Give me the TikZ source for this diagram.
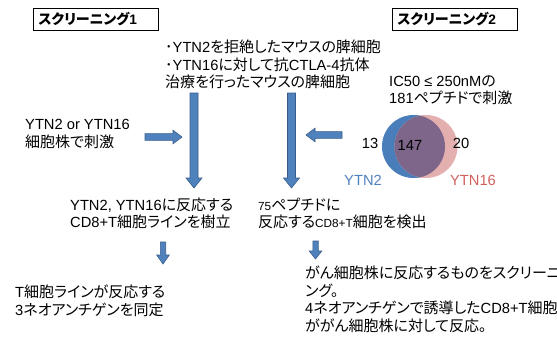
\documentclass[tikz,border=0pt]{standalone}
\usepackage{fontspec}
\setmainfont[RawFeature=+palt]{Noto Sans CJK JP}
\newfontfamily\lat[Scale=0.98]{Liberation Sans}
\newcommand\la[1]{{\lat #1}}
\newcommand\las[1]{{\lat\fontsize{12}{14}\selectfont #1}}
\usetikzlibrary{calc}
\definecolor{arrowfill}{HTML}{4F81BD}
\definecolor{arrowline}{HTML}{385D8A}
\definecolor{vennblue}{HTML}{4A7EBB}
\definecolor{vennpink}{HTML}{E4B0AF}
\definecolor{vennmix}{HTML}{7D6689}
\definecolor{ytntwo}{HTML}{4F81BD}
\definecolor{ytnsixteen}{HTML}{D0605E}
\tikzset{
  txt/.style={anchor=west, align=left, inner sep=0pt, font=\fontsize{15}{17.5}\selectfont},
  numtxt/.style={inner sep=0pt, font=\lat\fontsize{15}{17}\selectfont},
  titlebox/.style={draw, line width=0.8pt, minimum height=22pt, inner xsep=5pt, inner ysep=0pt,
    text width=115pt, align=left, anchor=north west, font=\bfseries\fontsize{14}{15}\selectfont},
  fatarrow/.style={fill=arrowfill, draw=arrowline, line width=0.6pt, line join=miter}
}
\newcommand\fatarrow[5]{%
  \coordinate (fa-h) at ($(#2)!#5!(#1)$);
  \filldraw[fatarrow] ($(#1)!#3!90:(#2)$) -- ($(fa-h)!#3!90:(#2)$) -- ($(fa-h)!#4!90:(#2)$) -- (#2)
    -- ($(fa-h)!#4!-90:(#2)$) -- ($(fa-h)!#3!-90:(#2)$) -- ($(#1)!#3!-90:(#2)$) -- cycle;}
\begin{document}
\begin{tikzpicture}[x=1pt,y=-1pt]
\useasboundingbox (0,0) rectangle (557,341);
% title boxes
\node[titlebox] (scr1) at (33,8) {スクリーニング\la{1}};
\node[titlebox] (scr2) at (392,7.5) {スクリーニング\la{2}};
% texts
\node[txt] (mice) at (165,64.5) {･\la{YTN2}を拒絶したマウスの脾細胞\\･\la{YTN16}に対して抗\la{CTLA-4}抗体\\治療を行ったマウスの脾細胞};
\node[txt] (ic50) at (389,90.5) {\la{IC50 ≤ 250nM}の\\\la{181}ペプチドで刺激};
\node[txt] (stim) at (25,134) {\la{YTN2 or YTN16}\\細胞株で刺激};
\node[txt] (line) at (70,213.5) {\la{YTN2, YTN16}に反応する\\\la{CD8+T}細胞ラインを樹立};
\node[txt] (pep) at (258,213.5) {\las{75}ペプチドに\\反応する\las{CD8+T}細胞を検出};
\node[txt] (ident) at (15,301) {\la{T}細胞ラインが反応する\\\la{3}ネオアンチゲンを同定};
\node[txt] (cancer) at (305,299.5) {がん細胞株に反応するものをスクリーニ\\ング。\\\la{4}ネオアンチゲンで誘導した\la{CD8+T}細胞\\ががん細胞株に対して反応。};
% venn
\coordinate (cb) at (413.5,146.5);
\coordinate (cp) at (426,146.5);
\fill[vennblue] (cb) circle[radius=31.5pt];
\fill[vennpink] (cp) circle[radius=31.5pt];
\begin{scope}
  \clip (cb) circle[radius=31.5pt];
  \fill[vennmix] (cp) circle[radius=31.5pt];
\end{scope}
\node[numtxt] (n13) at (370,143) {13};
\node[numtxt] (n147) at (410,145) {147};
\node[numtxt] (n20) at (461,143) {20};
\node[numtxt, text=ytntwo] (l2) at (363,180) {YTN2};
\node[numtxt, text=ytnsixteen] (l16) at (473,180) {YTN16};
% arrows
\coordinate (a1s) at (194,93);   \coordinate (a1e) at (194,188);
\coordinate (a2s) at (291.5,93); \coordinate (a2e) at (291.5,188);
\coordinate (a3s) at (145,137);  \coordinate (a3e) at (182,137);
\coordinate (a4s) at (342,135);  \coordinate (a4e) at (306,135);
\coordinate (s1s) at (163,242);  \coordinate (s1e) at (163,264);
\coordinate (s2s) at (315.5,241); \coordinate (s2e) at (315.5,259);
\fatarrow{a1s}{a1e}{4pt}{8pt}{10pt}
\fatarrow{a2s}{a2e}{4pt}{8pt}{10pt}
\fatarrow{a3s}{a3e}{3.4pt}{6.8pt}{9pt}
\fatarrow{a4s}{a4e}{3.4pt}{6.8pt}{9pt}
\fatarrow{s1s}{s1e}{2.7pt}{6.3pt}{9pt}
\fatarrow{s2s}{s2e}{2.7pt}{6.3pt}{8pt}
\end{tikzpicture}
\end{document}
